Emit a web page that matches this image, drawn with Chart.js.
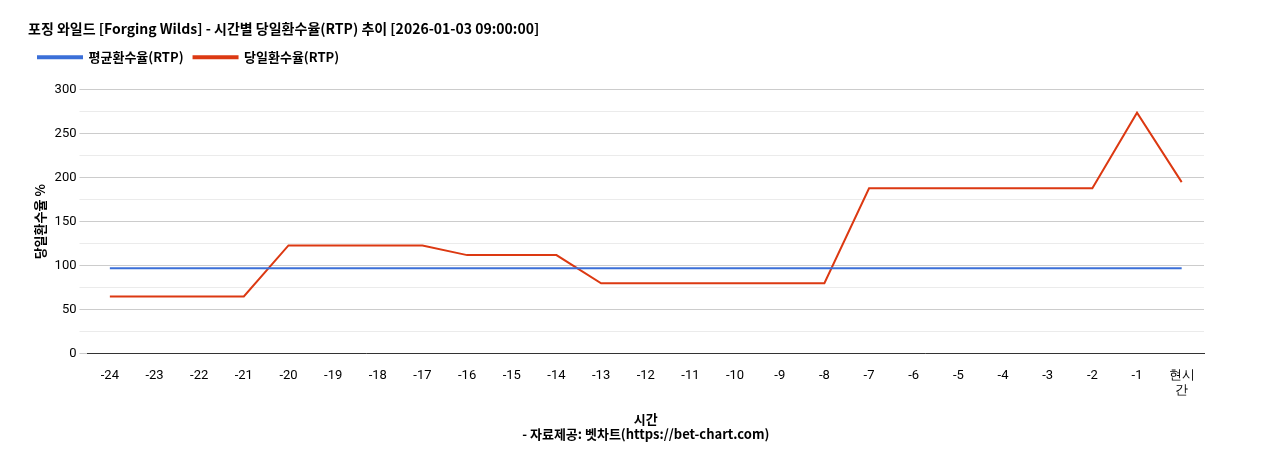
<!DOCTYPE html>
<html><head><meta charset="utf-8">
<script src="https://cdn.jsdelivr.net/npm/chart.js@4/dist/chart.umd.min.js"></script>
<style>body{margin:0;background:#fff}#w{width:1268px;height:450px}</style>
</head><body><div id="w"><canvas id="c"></canvas></div>
<script>
const labels=['-24','-23','-22','-21','-20','-19','-18','-17','-16','-15','-14','-13','-12','-11','-10','-9','-8','-7','-6','-5','-4','-3','-2','-1',['현시','간']];
const avgRtp=[97,97,97,97,97,97,97,97,97,97,97,97,97,97,97,97,97,97,97,97,97,97,97,97,97];
const dayRtp=[65,65,65,65,123,123,123,123,112,112,112,80,80,80,80,80,80,188,188,188,188,188,188,274,195];
const F="'Noto Sans CJK KR','Noto Sans',sans-serif";
Chart.defaults.font.family=F;
new Chart(document.getElementById('c'),{type:'line',
data:{labels,datasets:[
{label:'평균환수율(RTP)',data:avgRtp,borderColor:'#3b6fd8',backgroundColor:'#3b6fd8',borderWidth:2,pointRadius:0,tension:0},
{label:'당일환수율(RTP)',data:dayRtp,borderColor:'#dc3912',backgroundColor:'#dc3912',borderWidth:2,pointRadius:0,tension:0}]},
options:{responsive:true,maintainAspectRatio:false,animation:false,
layout:{padding:{left:28,right:64,top:8,bottom:4}},
plugins:{title:{display:true,text:'포징 와일드 [Forging Wilds] - 시간별 당일환수율(RTP) 추이 [2026-01-03 09:00:00]',align:'start',color:'#000',font:{size:14,weight:'bold'},padding:{top:12,bottom:4}},
legend:{align:'start',labels:{boxWidth:44,boxHeight:2,color:'#000',font:{size:13,weight:'bold'},padding:10}},tooltip:{enabled:false}},
scales:{x:{offset:true,grid:{display:false},border:{color:'#333'},ticks:{color:'#000',font:{size:13,family:'Roboto'},maxRotation:0,autoSkip:false,padding:6},
title:{display:true,text:['시간','- 자료제공: 벳차트(https://bet-chart.com)'],color:'#000',font:{size:13,weight:'bold'},padding:{top:6}}},
y:{min:0,max:300,border:{display:false},ticks:{stepSize:25,color:'#000',font:{size:13,family:'Roboto'},callback:v=>v%50===0?v:''},
grid:{color:c=>c.tick.value%50===0?'#cccccc':'#ebebeb'},
title:{display:true,text:'당일환수율 %',color:'#000',font:{size:13,weight:'bold'}}}}},
plugins:[{id:'gap',beforeInit(ch){const l=ch.legend;const f=l.fit;l.fit=function(){f.call(this);this.height+=16;};}}]});
</script></body></html>
